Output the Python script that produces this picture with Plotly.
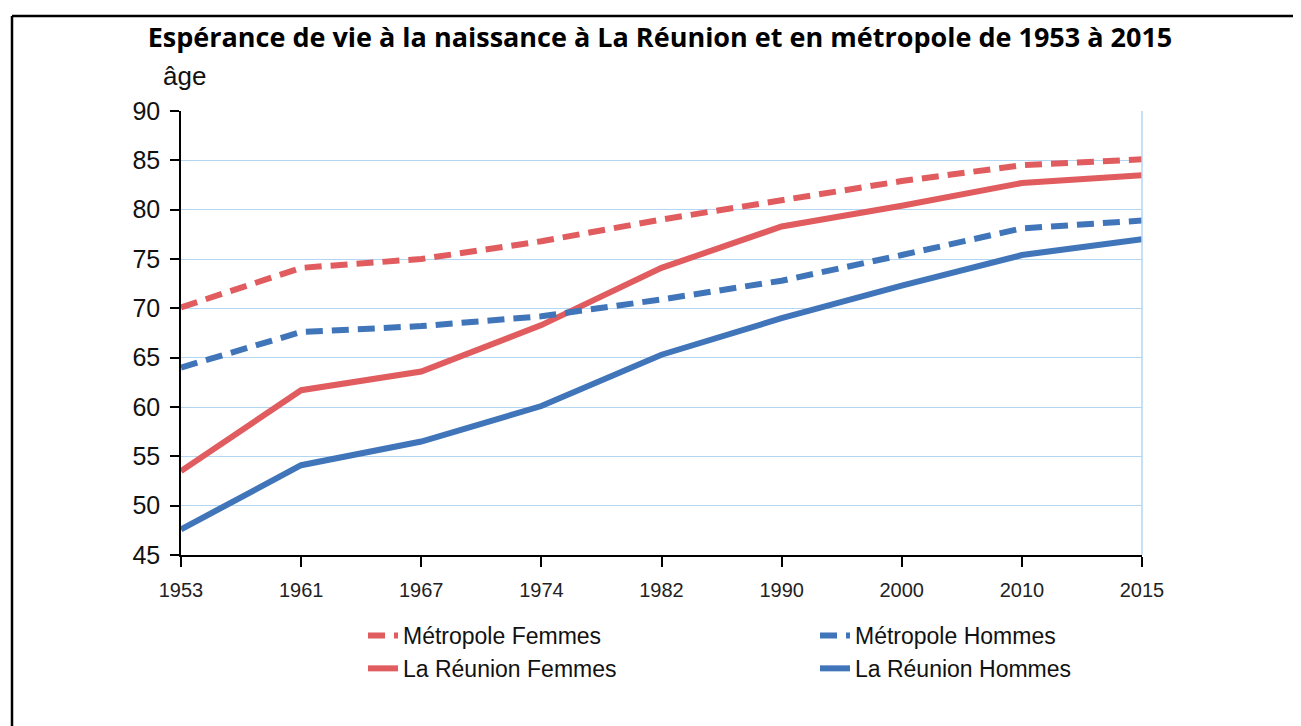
import plotly.graph_objects as go

years = ["1953", "1961", "1967", "1974", "1982", "1990", "2000", "2010", "2015"]
metro_femmes = [70.1, 74.1, 75.0, 76.8, 79.0, 81.0, 82.9, 84.5, 85.1]
reunion_femmes = [53.5, 61.7, 63.6, 68.3, 74.1, 78.3, 80.4, 82.7, 83.5]
metro_hommes = [64.0, 67.6, 68.2, 69.2, 70.9, 72.8, 75.4, 78.1, 78.9]
reunion_hommes = [47.6, 54.1, 56.5, 60.1, 65.3, 69.0, 72.3, 75.4, 77.0]

RED = "#e05c5f"
BLUE = "#4075ba"
O = 8  # page body margin offset
W, H = 1301, 726
L, R, T, B = 181 - O, 1142 - O, 111 - O, 555 - O

fig = go.Figure()
fig.add_trace(go.Scatter(x=years, y=metro_femmes, name="Métropole Femmes", mode="lines",
                         line=dict(color=RED, width=6, dash="17px,9px"), legend="legend"))
fig.add_trace(go.Scatter(x=years, y=reunion_femmes, name="La Réunion Femmes", mode="lines",
                         line=dict(color=RED, width=6), legend="legend"))
fig.add_trace(go.Scatter(x=years, y=metro_hommes, name="Métropole Hommes", mode="lines",
                         line=dict(color=BLUE, width=6, dash="17px,9px"), legend="legend2"))
fig.add_trace(go.Scatter(x=years, y=reunion_hommes, name="La Réunion Hommes", mode="lines",
                         line=dict(color=BLUE, width=6), legend="legend2"))

pw, ph = R - L, B - T
def px(x): return (x - O - L) / pw
def py(y): return (B - (y - O)) / ph

NARROW = "Liberation Sans Narrow, Arial Narrow, Liberation Sans, sans-serif"
legend_font = dict(family="Liberation Sans, Arial, sans-serif", size=23, color="#111")
fig.update_layout(
    width=W, height=H,
    margin=dict(l=L, r=W - R, t=T, b=H - B, autoexpand=False),
    paper_bgcolor="white", plot_bgcolor="white",
    title=dict(text="<b>Espérance de vie à la naissance à La Réunion et en métropole de 1953 à 2015</b>",
               x=px(660), xref="paper", xanchor="center", y=1 - (38 - O) / H, yanchor="middle",
               font=dict(family="Open Sans, sans-serif", size=27, color="black")),
    xaxis=dict(type="category", range=[0, len(years) - 1], showgrid=False,
               showline=True, linecolor="black", linewidth=1.5,
               ticks="outside", ticklen=10, tickcolor="black", tickwidth=1.5,
               tickfont=dict(family="Liberation Sans, Arial, sans-serif", size=20, color="#222"),
               ticklabelstandoff=6, zeroline=False),
    yaxis=dict(range=[45, 90], dtick=5, tick0=45, showgrid=True, gridcolor="#b3d6f2", gridwidth=1,
               showline=True, linecolor="black", linewidth=1.5,
               ticks="outside", ticklen=9, tickcolor="black", tickwidth=1.5,
               tickfont=dict(family=NARROW, size=25, color="#111"),
               ticklabelstandoff=5, zeroline=False),
    legend=dict(x=px(363), y=py(614), xanchor="left", yanchor="top", orientation="v",
                font=legend_font, bgcolor="rgba(0,0,0,0)", tracegroupgap=0),
    legend2=dict(x=px(815), y=py(614), xanchor="left", yanchor="top", orientation="v",
                 font=legend_font, bgcolor="rgba(0,0,0,0)", tracegroupgap=0),
    showlegend=True,
    annotations=[dict(text="âge", x=px(184), y=py(76), xref="paper", yref="paper",
                      showarrow=False, xanchor="center", yanchor="middle",
                      font=dict(family=NARROW, size=26, color="#111"))],
    shapes=[
        dict(type="line", xref="paper", yref="paper", x0=1, x1=1, y0=0, y1=1,
             line=dict(color="#b3d6f2", width=1.5)),
        dict(type="line", xref="paper", yref="paper", x0=px(12), x1=px(1320), y0=py(16), y1=py(16),
             line=dict(color="black", width=2.5)),
        dict(type="line", xref="paper", yref="paper", x0=px(12), x1=px(12), y0=py(16), y1=py(760),
             line=dict(color="black", width=2.5)),
    ],
)

fig.write_html("out.html")
